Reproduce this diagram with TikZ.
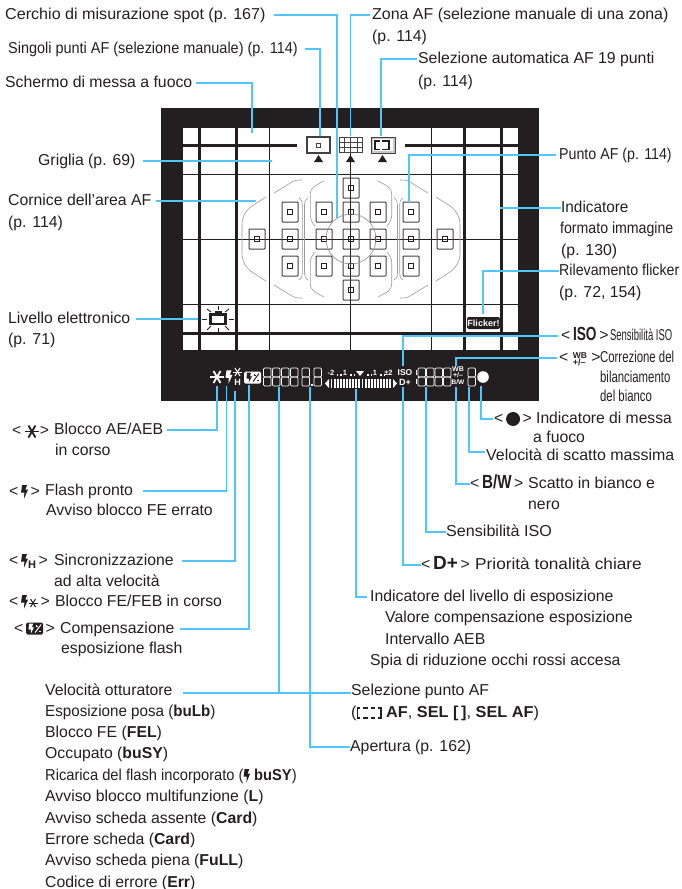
\documentclass[tikz,border=0pt]{standalone}
\usepackage{fontspec}
\setmainfont{Liberation Sans}
\definecolor{ink}{HTML}{231F20}
\definecolor{leadblue}{HTML}{4FC6FF}
\definecolor{curvegray}{HTML}{9A9A9A}
\tikzset{
    lbl/.style={anchor=west, inner sep=0pt, text height=12pt, text depth=4pt, text=ink,
        font=\fontsize{15.8}{18}\selectfont},
    sq/.style={xscale=#1, transform shape},
    disptext/.style={inner sep=0pt, text=white, font=\fontsize{7.5}{8}\selectfont\bfseries},
    leader/.style={draw=leadblue, line width=1.4pt},
    gridthick/.style={draw=ink, line width=3pt},
    gridthin/.style={draw=ink, line width=0.9pt},
    afbox/.style={draw=ink!85, line width=1pt, rounded corners=0.8pt},
    seg/.style={draw=white, line width=0.6pt, rounded corners=1.1pt},
    afcurve/.style={draw=curvegray, line width=0.6pt},
}
% small symbols used inside the labels
\newcommand{\aeicon}{\tikz[baseline=-3.5pt,x=1pt,y=1pt,line width=1.8pt]{
    \draw (-7,0) -- (7,0); \draw (-3.5,-6) -- (3.5,6); \draw (-3.5,6) -- (3.5,-6);}}
\newcommand{\staricon}{\tikz[baseline=-3pt,x=1pt,y=1pt,line width=1pt]{
    \draw (-4.5,0) -- (4.5,0); \draw (-2.5,-4) -- (2.5,4); \draw (-2.5,4) -- (2.5,-4);}}
\newcommand{\flashicon}{\tikz[baseline=-4.5pt,x=1pt,y=1pt]{
    \fill (2,6.5) -- (7,6.5) -- (5.3,2) -- (8,2) -- (4,-7) -- (4.3,-1) -- (1,-1) -- cycle;}}
\newcommand{\compicon}[2]{\tikz[baseline=-4.5pt,x=1pt,y=1pt]{
    \fill[#1, rounded corners=1.5pt] (0,-6) rectangle (17,6);
    \fill[#2] (3,5) -- (7,5) -- (6,1.2) -- (8,1.2) -- (4.8,-5) -- (5,-1) -- (2.5,-1) -- cycle;
    \draw[#2, line width=1pt] (9,-4) -- (15,4);
    \draw[#2, line width=0.8pt] (9.5,2.5) -- (12,2.5) (10.75,1.2) -- (10.75,3.8) (12.5,-2.5) -- (15,-2.5);}}
\newcommand{\wbicon}{\tikz[baseline=-3pt,x=1pt,y=1pt]{
    \node[inner sep=0pt, font=\fontsize{8.5}{8.5}\selectfont\bfseries] (wbTop) at (0,3.5) {WB};
    \node[inner sep=0pt, font=\fontsize{9}{9}\selectfont\bfseries] (wbLow) at (0,-3.5) {+/--};}}
\newcommand{\areaicon}{\tikz[baseline=-4pt,x=1pt,y=1pt,line width=1.3pt]{
    \draw (3,5) -- (0,5) -- (0,-5) -- (3,-5);
    \draw (20,5) -- (23,5) -- (23,-5) -- (20,-5);
    \draw (6,5) -- (10,5) (13,5) -- (17,5) (6,-5) -- (10,-5) (13,-5) -- (17,-5);}}
\newcommand{\bigbold}[2]{\scalebox{#1}[1]{\bfseries\fontsize{19}{19}\selectfont #2}}
% one seven segment digit of the display
\newcommand{\segdigit}[1]{
    \draw[seg] (#1,368) rectangle ++(7.5,9);
    \draw[seg] (#1,377) rectangle ++(7.5,9);
}
\begin{document}
\begin{tikzpicture}[x=1pt, y=-1pt, >=stealth]
    \useasboundingbox (0,0) rectangle (682,889);

    % Finder frame
    \fill[ink] (161,108) rectangle (539,401);
    \fill[white] (183,128) rectangle (518,350);

    % Grid of the screen
    \foreach \gx in {199,236,464,501}
        \draw[gridthick] (\gx,128) -- (\gx,350);
    \foreach \gx in {269,431}
        \draw[gridthin] (\gx,128) -- (\gx,350);
    \draw[gridthin] (350.5,153) -- (350.5,350);
    \draw[gridthick] (183,145) -- (297,145);
    \draw[gridthick] (405,145) -- (518,145);
    \draw[gridthick] (183,333) -- (518,333);
    \foreach \gy in {174,239,304}
        \draw[gridthin] (183,\gy) -- (518,\gy);

    % AF area selection marks
    \draw[ink!85, line width=1.2pt] (307,137) rectangle (330,153);
    \draw[ink!85, line width=1pt] (316.3,143) rectangle (320.3,147);
    \draw[ink!85, line width=1pt] (339.5,137.5) rectangle (362,152.5);
    \foreach \gx in {344,350.5,357}
        \draw[ink!85, line width=1pt] (\gx,137.5) -- (\gx,152.5);
    \foreach \gy in {142.5,147.5}
        \draw[ink!85, line width=1pt] (339.5,\gy) -- (362,\gy);
    \fill[ink!25] (370.5,136.5) rectangle (395.5,153.5);
    \draw[ink!85, line width=1pt] (371,137) rectangle (395,153);
    \fill[white] (373,139) rectangle (393,151);
    \draw[ink, line width=1.2pt] (380,141) -- (375,141) -- (375,149.5) -- (380,149.5);
    \draw[ink, line width=1.2pt] (382,141) -- (389,141) -- (389,149.5) -- (382,149.5);
    \foreach \gx in {318.5,350.5,382.5}
        \fill[ink] (\gx-4.5,162) -- (\gx+4.5,162) -- (\gx,155) -- cycle;

    % AF points
    \foreach \px/\py in {257/239,445/239,290/212,290/239,290/266,324/212,324/239,324/266,
            378/212,378/239,378/266,411/212,411/239,411/266,351/188,351/212,351/239,351/266,351/290}{
        \draw[afbox] (\px-8,\py-10) rectangle (\px+8,\py+10);
        \draw[ink, line width=0.9pt] (\px-2.5,\py-2.5) rectangle (\px+2.5,\py+2.5);
    }

    % Outline of the AF area, one quarter repeated
    \foreach \sx in {1,-1}
    \foreach \sy in {1,-1}{
        \begin{scope}[shift={(351,239)}, xscale=\sx, yscale=\sy]
            \draw[afcurve] (-85,-42) -- (-99,-33) .. controls (-106,-28) and (-109,-22) .. (-109,-14) -- (-109,0);
            \draw[afcurve] (-77,-46) -- (-59,-57) .. controls (-56,-59) and (-52,-59) .. (-49,-59);
            \draw[afcurve] (-52,-41) .. controls (-49,-39) and (-48.7,-37) .. (-48.7,-34) -- (-48.7,0);
            \draw[afcurve] (-43,-41) .. controls (-46,-39) and (-46.5,-37) .. (-46.5,-34) -- (-46.5,0);
            \draw[afcurve] (-27,-58) .. controls (-36,-53) and (-40.7,-52) .. (-40.7,-44) -- (-40.7,-24) .. controls (-40.7,-19) and (-38,-15) .. (-36,-13);
        \end{scope}
    }
    \draw[curvegray, line width=0.7pt] (351,239) circle (25);

    % Electronic level symbol
    \fill[ink] (209,313) rectangle (227,325);
    \fill[ink] (215,310.5) rectangle (222,314);
    \fill[white] (212,316) rectangle (224,323);
    \foreach \rx/\ry/\tx/\ty in {202/319/207/319,229/319/234/319,218/306/218/310,218/328/218/332,
            207/309/211/312,229/309/225/312,207/330/211/326,229/330/225/326}
        \draw[ink, line width=0.9pt] (\rx,\ry) -- (\tx,\ty);

    % Flicker mark
    \fill[ink, rounded corners=2pt] (467,317) rectangle (500,329);
    \node[inner sep=0pt, text=white, font=\fontsize{9}{9}\selectfont\bfseries] (flickerMark) at (483.5,323) {Flicker!};

    % Display under the screen
    \node[inner sep=0pt, text=white] (dispAe) at (217,377) {\aeicon};
    \node[inner sep=0pt, text=white] (dispFlash) at (229,377) {\flashicon};
    \node[inner sep=0pt, text=white] (dispStar) at (237.5,372) {\staricon};
    \node[disptext, font=\fontsize{9}{9}\selectfont\bfseries] (dispH) at (237.5,382) {H};
    \node[inner sep=0pt] (dispComp) at (252.5,377.5) {\compicon{white}{ink}};
    \foreach \dx in {263.5,272.5,281.5,290.5,302,314,418,426.5,435,443.5,468}
        \segdigit{\dx}
    \fill[white] (311,384) rectangle (313,386);
    \draw[white, line width=0.7pt] (416,370) -- (416,375) (416,379) -- (416,384);

    % Exposure level scale
    \node[disptext] (scaleLeft) at (331,373) {-2};
    \node[disptext] (scaleOneL) at (345,373) {1};
    \node[disptext] (scaleOneR) at (375,373) {1};
    \node[disptext] (scaleRight) at (388.5,373) {±2};
    \fill[white] (356,371) -- (364,371) -- (360,376) -- cycle;
    \foreach \sd in {336.5,340,350,353.5,367,370.5,380,383.5}
        \fill[white] (\sd,374) rectangle ++(1.6,2);
    \fill[white] (329,379) -- (329,388) -- (325,383.5) -- cycle;
    \fill[white] (393,379) -- (393,388) -- (397,383.5) -- cycle;
    \foreach \sd in {0,...,19}
        \fill[white] (330.5+\sd*3.1,378.5) rectangle ++(1.9,9.5);
    \node[disptext, font=\fontsize{8.5}{8}\selectfont\bfseries] (dispIso) at (405,373) {ISO};
    \node[disptext, font=\fontsize{9}{8.5}\selectfont\bfseries] (dispDplus) at (405,382.5) {D+};
    \node[disptext, font=\fontsize{7}{6.5}\selectfont\bfseries] (dispWb) at (458,369.5) {WB};
    \node[disptext, font=\fontsize{7}{7}\selectfont\bfseries] (dispPm) at (458,375.5) {+/--};
    \node[disptext, font=\fontsize{6.5}{6.5}\selectfont\bfseries] (dispBw) at (458,382.5) {B/W};
    \fill[white] (483,377) circle (5.8);

    % Labels at the top
    \node[lbl, sq=1.02] (spotText) at (5,15) {Cerchio di misurazione spot (p. 167)};
    \node[lbl, sq=1.01] (zoneText) at (372,15) {Zona AF (selezione manuale di una zona)};
    \node[lbl] (zonePage) at (372,37) {(p. 114)};
    \node[lbl, sq=.915] (singleText) at (8,49) {Singoli punti AF (selezione manuale) (p. 114)};
    \node[lbl] (autoText) at (418,59) {Selezione automatica AF 19 punti};
    \node[lbl] (autoPage) at (418,82) {(p. 114)};
    \node[lbl] (screenText) at (5,83) {Schermo di messa a fuoco};
    \node[lbl] (gridText) at (38,161) {Griglia (p. 69)};
    \node[lbl] (areaText) at (8,201) {Cornice dell'area AF};
    \node[lbl] (areaPage) at (8,223) {(p. 114)};
    \node[lbl, sq=.9] (pointText) at (559,155) {Punto AF (p. 114)};
    \node[lbl, sq=.97] (formatText) at (561,208) {Indicatore};
    \node[lbl, sq=.895] (formatMid) at (560,229) {formato immagine};
    \node[lbl] (formatPage) at (561,251) {(p. 130)};
    \node[lbl, sq=.9] (flickerText) at (559,271) {Rilevamento flicker};
    \node[lbl] (flickerPage) at (559,293) {(p. 72, 154)};
    \node[lbl] (levelText) at (8,319) {Livello elettronico};
    \node[lbl] (levelPage) at (8,340) {(p. 71)};

    % Labels on the right
    \node[lbl] (isoSym) at (561,336) {<\,\bigbold{.72}{ISO}\,>};
    \node[lbl, sq=.6] (isoText) at (610,336) {Sensibilità ISO};
    \node[lbl] (wbSym) at (559,358) {<\;\wbicon\;>};
    \node[lbl, sq=.72] (wbText) at (600,358) {Correzione del};
    \node[lbl, sq=.72] (wbMid) at (600,378) {bilanciamento};
    \node[lbl, sq=.72] (wbEnd) at (600,397) {del bianco};
    \node[lbl] (focusSym) at (494,419) {<\,\tikz[baseline=-4pt]{\fill (0,0) circle (7pt);}\,>};
    \node[lbl, sq=.99] (focusText) at (536,419) {Indicatore di messa};
    \node[lbl] (focusEnd) at (533,438) {a fuoco};
    \node[lbl, sq=1.01] (burstText) at (486,456) {Velocità di scatto massima};
    \node[lbl] (bwSym) at (470,484) {<\,\bigbold{.8}{B/W}\,>};
    \node[lbl, sq=1.01] (bwText) at (528,484) {Scatto in bianco e};
    \node[lbl] (bwEnd) at (528,505) {nero};
    \node[lbl, sq=1.02] (isoSpeed) at (446,532) {Sensibilità ISO};
    \node[lbl] (dplusSym) at (421,565) {<\,\bigbold{1}{D+}\,>};
    \node[lbl, sq=1.09] (dplusText) at (475,565) {Priorità tonalità chiare};
    \node[lbl] (expText) at (370,597) {Indicatore del livello di esposizione};
    \node[lbl] (expComp) at (385,618) {Valore compensazione esposizione};
    \node[lbl] (expAeb) at (385,640) {Intervallo AEB};
    \node[lbl] (expRed) at (370,661) {Spia di riduzione occhi rossi accesa};
    \node[lbl] (selText) at (351,691) {Selezione punto AF};
    \node[lbl, sq=1.03] (selModes) at (351,713) {(\areaicon{} \textbf{AF}, \textbf{SEL} \textbf{[\,]}, \textbf{SEL AF})};
    \node[lbl] (apertText) at (350,747) {Apertura (p. 162)};

    % Labels on the left
    \node[lbl] (aeSym) at (12,431) {<\,\aeicon{}>};
    \node[lbl] (aeText) at (54,430) {Blocco AE/AEB};
    \node[lbl] (aeEnd) at (55,451) {in corso};
    \node[lbl] (flashSym) at (9,492) {<\,\flashicon\,>};
    \node[lbl] (flashText) at (45,491) {Flash pronto};
    \node[lbl] (flashEnd) at (46,511) {Avviso blocco FE errato};
    \node[lbl] (hsSym) at (9,561) {<\,\flashicon\raisebox{-3pt}{\textbf{\fontsize{11}{11}\selectfont H}}\,>};
    \node[lbl] (hsText) at (54,561) {Sincronizzazione};
    \node[lbl] (hsEnd) at (54,582) {ad alta velocità};
    \node[lbl] (febSym) at (9,602) {<\,\flashicon\staricon\,>};
    \node[lbl] (febText) at (55,602) {Blocco FE/FEB in corso};
    \node[lbl] (compSym) at (14,629) {<\,\compicon{ink}{white}\,>};
    \node[lbl] (compText) at (60,629) {Compensazione};
    \node[lbl] (compEnd) at (61,649) {esposizione flash};

    % Labels at the bottom
    \node[lbl] (shutterText) at (45,691) {Velocità otturatore};
    \node[lbl, sq=.96] (bulbText) at (45,712) {Esposizione posa (\textbf{buLb})};
    \node[lbl] (felText) at (45,733) {Blocco FE (\textbf{FEL})};
    \node[lbl] (busyText) at (45,754) {Occupato (\textbf{buSY})};
    \node[lbl, sq=.93] (rechargeText) at (45,776) {Ricarica del flash incorporato (\flashicon{} \textbf{buSY})};
    \node[lbl] (multiText) at (45,797) {Avviso blocco multifunzione (\textbf{L})};
    \node[lbl] (noCardText) at (45,819) {Avviso scheda assente (\textbf{Card})};
    \node[lbl] (cardErrText) at (45,840) {Errore scheda (\textbf{Card})};
    \node[lbl] (fullText) at (45,861) {Avviso scheda piena (\textbf{FuLL})};
    \node[lbl] (codeText) at (45,883) {Codice di errore (\textbf{Err})};

    % Free ends of the leaders
    \coordinate (spotEnd) at (337,218);
    \coordinate (zoneEnd) at (350.5,136);
    \coordinate (singleEnd) at (320,136);
    \coordinate (autoEnd) at (381,136);
    \coordinate (screenEnd) at (252,133);
    \coordinate (gridEnd) at (272,161);
    \coordinate (areaEnd) at (256,201);
    \coordinate (pointEnd) at (409,201);
    \coordinate (formatEnd) at (500,208);
    \coordinate (flickerEnd) at (483,314);
    \coordinate (levelEnd) at (198,319);
    \coordinate (isoEnd) at (403,366);
    \coordinate (wbEnd2) at (456,366);
    \coordinate (focusStart) at (481,386);
    \coordinate (burstStart) at (469,387);
    \coordinate (bwStart) at (456,387);
    \coordinate (speedStart) at (426,387);
    \coordinate (dplusStart) at (403,387);
    \coordinate (expStart) at (356,389);
    \coordinate (apertStart) at (310,387);
    \coordinate (shutterStart) at (279,387);
    \coordinate (compStart) at (249,385);
    \coordinate (hsStart) at (235,391);
    \coordinate (flashStart) at (226.5,386);
    \coordinate (aeStart) at (217,386);

    % Leaders
    \draw[leader, shorten <=8pt] (spotText.east) -| (spotEnd);
    \draw[leader, shorten <=2pt] (zoneText.west) -| (zoneEnd);
    \draw[leader, shorten <=7pt] (singleText.east) -| (singleEnd);
    \draw[leader, shorten <=1pt] (autoText.west) -| (autoEnd);
    \draw[leader, shorten <=4pt] (screenText.east) -| (screenEnd);
    \draw[leader, shorten <=7pt] (gridText.east) -- (gridEnd);
    \draw[leader, shorten <=4pt] (areaText.east) -- (areaEnd);
    \draw[leader, shorten <=3pt] (pointText.west) -| (pointEnd);
    \draw[leader] (formatText.west) -- (formatEnd);
    \draw[leader] (flickerText.west) -| (flickerEnd);
    \draw[leader, shorten <=6pt] (levelText.east) -- (levelEnd);
    \draw[leader, shorten <=3pt] (isoSym.west) -| (isoEnd);
    \draw[leader, shorten <=2pt] (wbSym.west) -| (wbEnd2);
    \draw[leader, shorten <=1pt] (focusSym.west) -| (focusStart);
    \draw[leader, shorten <=1pt] ([yshift=4pt]burstText.west) -| (burstStart);
    \draw[leader] (bwSym.west) -| (bwStart);
    \draw[leader] (isoSpeed.west) -| (speedStart);
    \draw[leader] (dplusSym.west) -| (dplusStart);
    \draw[leader, shorten <=3pt] (expText.west) -| (expStart);
    \draw[leader] (apertText.west) -| (apertStart);
    \draw[leader, shorten <=10pt] (shutterText.east |- 0,693) -- (selText.west |- 0,693);
    \draw[leader] (shutterStart) -- (shutterStart |- 0,693);
    \draw[leader, shorten <=5pt] (compText.east) -| (compStart);
    \draw[leader, shorten <=8pt] (hsText.east) -| (hsStart);
    \draw[leader, shorten <=10pt] (flashText.east) -| (flashStart);
    \draw[leader, shorten <=4pt] (aeText.east) -| (aeStart);
\end{tikzpicture}
\end{document}
